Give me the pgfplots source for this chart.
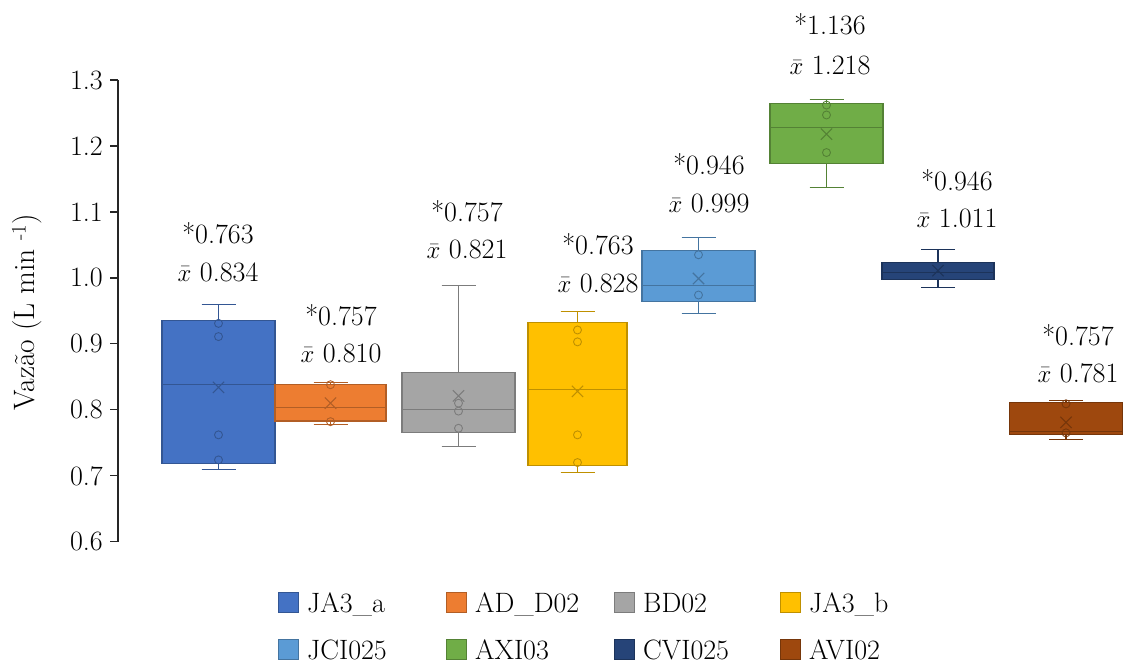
\documentclass[border=0pt]{standalone}
\usepackage{pgfplots}
\pgfplotsset{compat=1.18}
\usepgfplotslibrary{statistics}
\definecolor{cA}{HTML}{4472C4}
\definecolor{cB}{HTML}{ED7D31}
\definecolor{cC}{HTML}{A5A5A5}
\definecolor{cD}{HTML}{FFC000}
\definecolor{cE}{HTML}{5B9BD5}
\definecolor{cF}{HTML}{70AD47}
\definecolor{cG}{HTML}{264478}
\definecolor{cH}{HTML}{9E480E}
\newcommand{\bigf}{\rmfamily\fontsize{28}{33}\selectfont}
% color, position, width, lw, lq, med, uq, uw
\newcommand{\bx}[8]{%
  \addplot[boxplot prepared={draw direction=y, draw position=#2, lower whisker=#4, lower quartile=#5,
    median=#6, upper quartile=#7, upper whisker=#8, box extend=#3, whisker extend=0.34},
    fill=#1, draw=#1!75!black, line width=1.1pt] coordinates {};
}
\begin{document}
\begin{tikzpicture}
\useasboundingbox (0pt,0pt) rectangle (1124pt,665pt);
\begin{axis}[
  at={(118pt,123.3pt)}, anchor=south west,
  scale only axis, width=1006pt, height=461.7pt,
  xmin=1.18, xmax=11.24, ymin=0.6, ymax=1.3,
  axis x line=none, axis y line*=left,
  ytick={0.6,0.7,0.8,0.9,1.0,1.1,1.2,1.3},
  yticklabel style={/pgf/number format/.cd, fixed, fixed zerofill, precision=1, assume math mode=true},
  tick label style={font=\bigf, inner sep=7pt},
  tick align=outside, major tick length=8pt,
  y axis line style={line width=1.3pt, black!85},
  ytick style={line width=1.3pt, black!85},
  clip=false,
]
\bx{cA}{2.185}{1.13}{0.710}{0.719}{0.839}{0.936}{0.959}
\bx{cB}{3.305}{1.11}{0.778}{0.783}{0.804}{0.838}{0.841}
\bx{cC}{4.585}{1.13}{0.744}{0.765}{0.801}{0.856}{0.989}
\bx{cD}{5.775}{0.99}{0.705}{0.716}{0.831}{0.932}{0.949}
\bx{cE}{6.985}{1.13}{0.946}{0.964}{0.989}{1.041}{1.061}
\bx{cF}{8.265}{1.13}{1.137}{1.173}{1.228}{1.265}{1.271}
\bx{cG}{9.38}{1.12}{0.986}{0.997}{1.008}{1.023}{1.043}
\bx{cH}{10.66}{1.13}{0.755}{0.762}{0.767}{0.811}{0.814}
% data points
\pgfplotsset{pts/.style={only marks, mark=o, mark size=4pt, line width=0.9pt}}
\addplot[pts, draw=cA!75!black] coordinates {(2.185,0.931)(2.185,0.911)(2.185,0.762)(2.185,0.724)};
\addplot[pts, draw=cB!75!black] coordinates {(3.305,0.838)(3.305,0.782)};
\addplot[pts, draw=cC!75!black] coordinates {(4.585,0.810)(4.585,0.798)(4.585,0.772)};
\addplot[pts, draw=cD!75!black] coordinates {(5.775,0.921)(5.775,0.903)(5.775,0.762)(5.775,0.720)};
\addplot[pts, draw=cE!75!black] coordinates {(6.985,1.035)(6.985,0.974)};
\addplot[pts, draw=cF!75!black] coordinates {(8.265,1.262)(8.265,1.247)(8.265,1.190)};
\addplot[pts, draw=cH!75!black] coordinates {(10.66,0.809)(10.66,0.765)};
% means
\pgfplotsset{mn/.style={only marks, mark=x, mark size=8pt, line width=1.1pt}}
\addplot[mn, draw=cA!75!black] coordinates {(2.185,0.834)};
\addplot[mn, draw=cB!75!black] coordinates {(3.305,0.810)};
\addplot[mn, draw=cC!75!black] coordinates {(4.585,0.821)};
\addplot[mn, draw=cD!75!black] coordinates {(5.775,0.828)};
\addplot[mn, draw=cE!75!black] coordinates {(6.985,0.999)};
\addplot[mn, draw=cF!75!black] coordinates {(8.265,1.218)};
\addplot[mn, draw=cG!75!black] coordinates {(9.38,1.011)};
\addplot[mn, draw=cH!75!black] coordinates {(10.66,0.781)};
\end{axis}
% annotations
\foreach \cx/\ba/\bb/\s/\m in {218/244/281/0.763/0.834, 341/325/362/0.757/0.810, 467/222/259/0.757/0.821,
  598/255/292/0.763/0.828, 709/175/213/0.946/0.999, 830/35/75/1.136/1.218, 957/191/228/0.946/1.011,
  1078/345/382/0.757/0.781}{
  \node[font=\bigf, anchor=base, inner sep=0pt] at (\cx pt, 665pt-\ba pt) {*\s};
  \node[font=\bigf, anchor=base, inner sep=0pt] at (\cx pt, 665pt-\bb pt) {$\bar{x}$ \m};
}
% y label
\node[rotate=90, font=\rmfamily\fontsize{29.5}{34}\selectfont] at (27pt, 353pt) {Vazão (L min \textsuperscript{-1})};
% legend
\foreach \lx/\ly/\c/\t in {278/73/cA/JA3\_a, 446/73/cB/AD\_D02, 614/73/cC/BD02, 780/73/cD/JA3\_b,
  278/26/cE/JCI025, 446/26/cF/AXI03, 614/26/cG/CVI025, 780/26/cH/AVI02}{
  \draw[fill=\c, draw=\c!75!black, line width=0.8pt] (\lx pt,\ly pt-20pt) rectangle (\lx pt+20pt,\ly pt);
  \node[font=\bigf, anchor=base west, inner sep=0pt] at (\lx pt+29pt, \ly pt-20pt) {\t};
}
\end{tikzpicture}
\end{document}
